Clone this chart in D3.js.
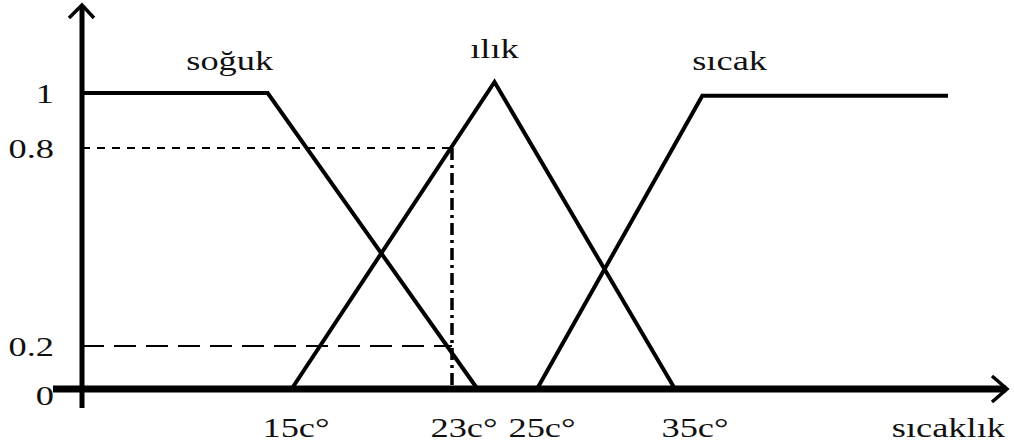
<!DOCTYPE html>
<html>
<head>
<meta charset="utf-8">
<script src="https://cdn.jsdelivr.net/npm/d3@7/dist/d3.min.js"></script>
<style>
  body { margin: 0; background: #fff; }
  text { font-family: "Liberation Serif", "Times New Roman", serif; fill: #111; }
</style>
</head>
<body>
<div id="chart"></div>
<script>
// fuzzy sets, points are [temperature, membership]
var setNames = ["soğuk", "ılık", "sıcak"];
var soguk = [[0, 1], [13.2, 1], [23.6, 0]];
var ilik = [[14.9, 0], [24, 1.04], [35, 0]];
var sicak = [[25, 0], [36, 0.99], [45, 0.99]];
var setLabelTemps = [10.5, 24, 37];

var xTicks = [15, 23, 25, 35];
var xTickLabels = ["15c°", "23c°", "25c°", "35c°"];
var yTicks = [0, 0.2, 0.8, 1];
var yTickLabels = ["0", "0.2", "0.8", "1"];
var xTitle = "sıcaklık";

// the reading at 23c°
var probeTemp = 23;
var probeLow = 0.2;
var probeHigh = 0.8;

var width = 1014, height = 448;

// the sketch is not drawn to scale, so both scales are piecewise
var x = d3.scaleLinear()
    .domain([0, 15, 23, 25, 35, 45])
    .range([82, 293, 452, 537, 675, 948]);
var y = d3.scaleLinear()
    .domain([0, 0.2, 0.8, 1])
    .range([389, 346, 148, 93]);

var svg = d3.select("#chart").append("svg")
    .attr("width", width)
    .attr("height", height);

var line = d3.line()
    .x(function (d) { return x(d[0]); })
    .y(function (d) { return y(d[1]); });

// dashed guides
svg.append("line")
    .attr("x1", x(0)).attr("x2", x(probeTemp))
    .attr("y1", y(probeHigh)).attr("y2", y(probeHigh))
    .attr("stroke", "#000").attr("stroke-width", 2)
    .attr("stroke-dasharray", "8,7");
svg.append("line")
    .attr("x1", x(0)).attr("x2", x(probeTemp))
    .attr("y1", y(probeLow)).attr("y2", y(probeLow))
    .attr("stroke", "#000").attr("stroke-width", 2)
    .attr("stroke-dasharray", "22,10");
svg.append("line")
    .attr("x1", x(probeTemp)).attr("x2", x(probeTemp))
    .attr("y1", y(probeHigh)).attr("y2", y(0))
    .attr("stroke", "#000").attr("stroke-width", 3.5)
    .attr("stroke-dasharray", "12,5,3,5");

// membership functions
[soguk, ilik, sicak].forEach(function (s) {
    svg.append("path")
        .datum(s)
        .attr("d", line)
        .attr("fill", "none")
        .attr("stroke", "#000")
        .attr("stroke-width", 4)
        .attr("stroke-linejoin", "miter");
});

// axes
svg.append("line")
    .attr("x1", x(0)).attr("x2", x(0))
    .attr("y1", y(0) + 19).attr("y2", 6)
    .attr("stroke", "#000").attr("stroke-width", 5);
svg.append("path")
    .attr("d", "M" + (x(0) - 13) + ",18L" + x(0) + ",5L" + (x(0) + 12) + ",18")
    .attr("fill", "none").attr("stroke", "#000").attr("stroke-width", 3.5);

svg.append("line")
    .attr("x1", x(0) - 29).attr("x2", 1006)
    .attr("y1", y(0)).attr("y2", y(0))
    .attr("stroke", "#000").attr("stroke-width", 7);
svg.append("path")
    .attr("d", "M992," + (y(0) - 13) + "L1007," + y(0) + "L992," + (y(0) + 13))
    .attr("fill", "none").attr("stroke", "#000").attr("stroke-width", 3.5);

// text, stretched a bit wider like the scan
function label(tx, ty, str, anchor) {
    svg.append("text")
        .attr("transform", "translate(" + tx + "," + ty + ") scale(1.3,1)")
        .attr("text-anchor", anchor)
        .style("font-size", "28px")
        .text(str);
}

yTicks.forEach(function (v, i) {
    label(54, y(v) + 10 + (v === 0 ? 6 : 0), yTickLabels[i], "end");
});
xTicks.forEach(function (v, i) {
    var off = [3, 12, 5, 20][i];
    label(x(v) + off, 437, xTickLabels[i], "middle");
});
label(1005, 437, xTitle, "end");

setNames.forEach(function (n, i) {
    label(x(setLabelTemps[i]), i === 1 ? 58 : 70, n, "middle");
});
</script>
</body>
</html>
